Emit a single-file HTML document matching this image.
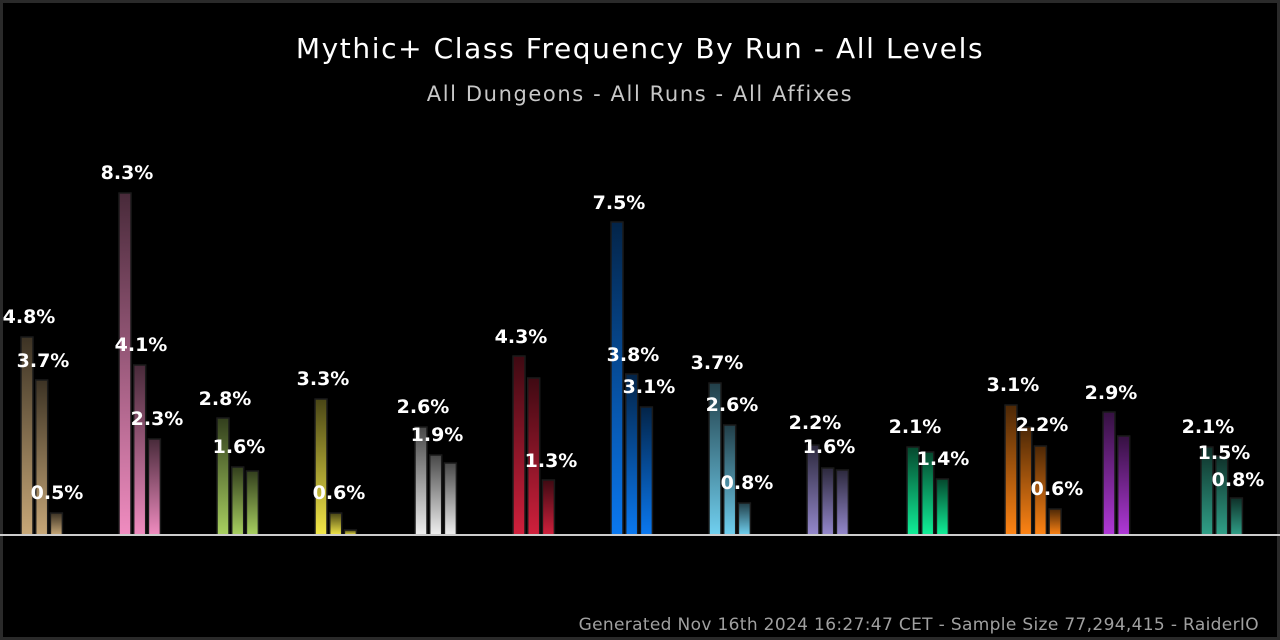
<!DOCTYPE html>
<html><head><meta charset="utf-8"><style>
html,body{margin:0;padding:0;background:#000;}
svg{display:block;}
</style></head><body>
<svg width="1280" height="640" viewBox="0 0 1280 640" xmlns="http://www.w3.org/2000/svg" font-family="DejaVu Sans, Liberation Sans, sans-serif">
<defs></defs>
<rect x="0" y="0" width="1280" height="640" fill="#000"/>
<rect x="1.5" y="1.5" width="1277" height="637" fill="none" stroke="#2a2a2a" stroke-width="3"/>
<text x="640" y="58" fill="#fff" font-size="28" letter-spacing="1.6" text-anchor="middle">Mythic+ Class Frequency By Run - All Levels</text>
<text x="640" y="101" fill="#c8c8c8" font-size="21" letter-spacing="1.6" text-anchor="middle">All Dungeons - All Runs - All Affixes</text>
<text x="1259" y="630" fill="#a0a0a0" font-size="17" letter-spacing="0.34" text-anchor="end">Generated Nov 16th 2024 16:27:47 CET - Sample Size 77,294,415 - RaiderIO</text>
<g id="bars" stroke="#1a1a1a" stroke-width="1.5"></g>
<line x1="0" y1="535" x2="1280" y2="535" stroke="#ccc" stroke-width="2"/>
<g id="labels" fill="#fff" font-size="19" font-weight="bold" text-anchor="middle"></g>
</svg>
<script>
var groups=[
[21,"#c8a878",[337,380,513]],
[119,"#f08cc0",[193,365,439]],
[217,"#a8d060",[418,467,471]],
[315,"#f4e848",[399,513,530]],
[415,"#f0f0f0",[427,455,463]],
[513,"#d0203c",[356,378,480]],
[611,"#0a78f0",[222,374,407]],
[709,"#70d0f0",[383,425,503]],
[807,"#9488cc",[445,468,470]],
[907,"#10f098",[447,452,479]],
[1005,"#ff8414",[405,427,446,509]],
[1103,"#b038d8",[412,436]],
[1201,"#30a088",[447,456,498]]
];
var h="";
groups.forEach(function(g,i){
 h+='<linearGradient id="c'+i+'" x1="0" y1="0" x2="0" y2="1"><stop offset="0" stop-color="'+g[1]+'" stop-opacity="0.3"/><stop offset="1" stop-color="'+g[1]+'" stop-opacity="1"/></linearGradient>';
});
document.querySelector("defs").innerHTML=h;
var s="";
groups.forEach(function(g,i){
 g[2].forEach(function(t,j){
  var x=g[0]+j*14.7;
  s+='<rect x="'+x+'" y="'+t+'" width="12" height="'+(535-t)+'" fill="url(#c'+i+')"/>';
 });
});
document.getElementById("bars").innerHTML=s;
var L=[[29,323,"4.8%"],[43,367,"3.7%"],[57,499,"0.5%"],[127,179,"8.3%"],[141,351,"4.1%"],[157,425,"2.3%"],
[225,405,"2.8%"],[239,453,"1.6%"],[323,385,"3.3%"],[339,499,"0.6%"],[423,413,"2.6%"],[437,441,"1.9%"],
[521,343,"4.3%"],[551,467,"1.3%"],[619,209,"7.5%"],[633,361,"3.8%"],[649,393,"3.1%"],
[717,369,"3.7%"],[732,411,"2.6%"],[747,489,"0.8%"],[815,429,"2.2%"],[829,453,"1.6%"],
[915,433,"2.1%"],[943,465,"1.4%"],[1013,391,"3.1%"],[1042,431,"2.2%"],[1057,495,"0.6%"],
[1111,399,"2.9%"],[1208,433,"2.1%"],[1224,459,"1.5%"],[1238,486,"0.8%"]];
var t="";
L.forEach(function(l){t+='<text x="'+l[0]+'" y="'+l[1]+'">'+l[2]+'</text>';});
document.getElementById("labels").innerHTML=t;
</script>
</body></html>
